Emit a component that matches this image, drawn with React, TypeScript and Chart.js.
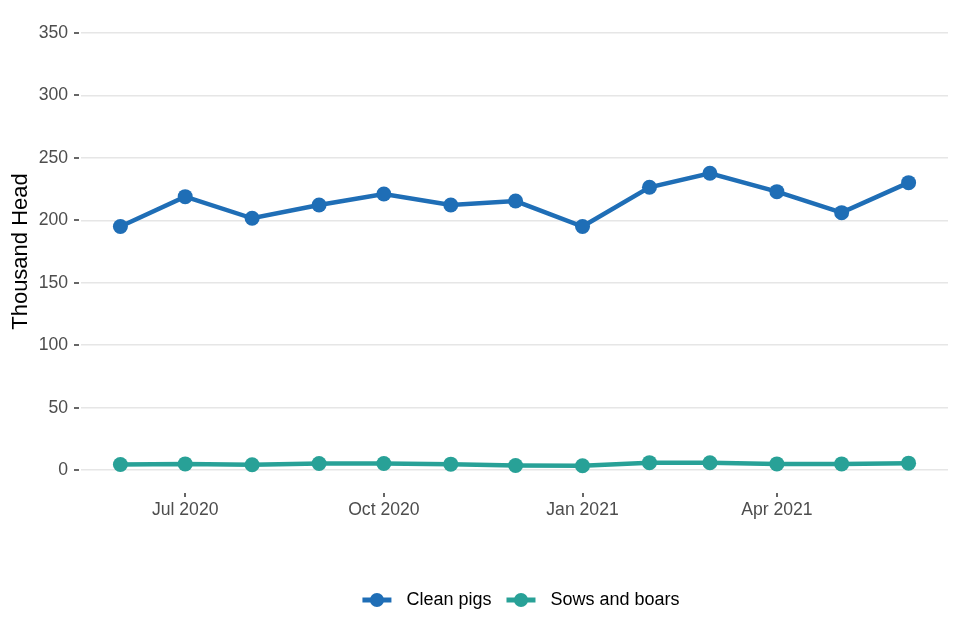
import React, { useEffect, useRef } from "react";
import { Chart, registerables } from "chart.js";

Chart.register(...registerables);

const months = [
  "2020-06", "2020-07", "2020-08", "2020-09", "2020-10", "2020-11", "2020-12",
  "2021-01", "2021-02", "2021-03", "2021-04", "2021-05", "2021-06",
];
const cleanPigs = [195.0, 218.9, 201.6, 212.2, 221.0, 212.2, 215.4, 195.0, 226.4, 237.6, 222.9, 206.1, 230.1];
const sowsAndBoars = [4.5, 5.0, 4.3, 5.3, 5.3, 4.8, 3.7, 3.5, 6.0, 5.9, 5.0, 5.0, 5.6];
const seriesNames = ["Clean pigs", "Sows and boars"];
const xTickMonths = ["2020-07", "2020-10", "2021-01", "2021-04"];
const yTicks = [0, 50, 100, 150, 200, 250, 300, 350];

const MONTH_ABBR = ["Jan", "Feb", "Mar", "Apr", "May", "Jun", "Jul", "Aug", "Sep", "Oct", "Nov", "Dec"];
const toDay = (m: string) => {
  const [y, mo] = m.split("-").map(Number);
  return Date.UTC(y, mo - 1, 1) / 86400000;
};
const dayLabel = (d: number) => {
  const dt = new Date(d * 86400000);
  return MONTH_ABBR[dt.getUTCMonth()] + " " + dt.getUTCFullYear();
};

const COLORS = ["#1f6eb6", "#28a197"];
const FONT = "'Liberation Sans', Arial, sans-serif";

const tickMarks = {
  id: "tickMarks",
  afterDraw(chart: any) {
    const { ctx, chartArea, scales } = chart;
    ctx.save();
    ctx.strokeStyle = "#333333";
    ctx.lineWidth = 1.5;
    for (const t of scales.y.ticks) {
      const y = Math.round(scales.y.getPixelForValue(t.value));
      ctx.beginPath();
      ctx.moveTo(chartArea.left - 7, y);
      ctx.lineTo(chartArea.left - 2, y);
      ctx.stroke();
    }
    for (const t of scales.x.ticks) {
      const x = Math.round(scales.x.getPixelForValue(t.value));
      ctx.beginPath();
      ctx.moveTo(x, chartArea.bottom + 1);
      ctx.lineTo(x, chartArea.bottom + 5);
      ctx.stroke();
    }
    ctx.restore();
  },
};

const customLegend = {
  id: "customLegend",
  afterDraw(chart: any) {
    const { ctx } = chart;
    ctx.save();
    ctx.font = `18px ${FONT}`;
    ctx.textBaseline = "middle";
    const keyW = 29;
    const gap = 15;
    const items = chart.data.datasets.map((d: any) => ({
      label: d.label,
      color: d.borderColor,
      w: ctx.measureText(d.label).width,
    }));
    let total = 0;
    items.forEach((it: any, i: number) => {
      total += keyW + gap + it.w + (i < items.length - 1 ? gap : 0);
    });
    const cx = 521;
    const cy = 600;
    let x = cx - total / 2;
    items.forEach((it: any) => {
      ctx.strokeStyle = it.color;
      ctx.lineWidth = 5;
      ctx.beginPath();
      ctx.moveTo(x, cy);
      ctx.lineTo(x + keyW, cy);
      ctx.stroke();
      ctx.fillStyle = it.color;
      ctx.beginPath();
      ctx.arc(x + keyW / 2, cy, 7, 0, Math.PI * 2);
      ctx.fill();
      x += keyW + gap;
      ctx.fillStyle = "#000000";
      ctx.textAlign = "left";
      ctx.fillText(it.label, x, cy);
      x += it.w + gap;
    });
    ctx.restore();
  },
};

export default function App() {
  const ref = useRef<HTMLCanvasElement | null>(null);
  useEffect(() => {
    document.body.style.margin = "0";
    if (!ref.current) return;
    const xs = months.map(toDay);
    const chart = new Chart(ref.current, {
      type: "line",
      data: {
        datasets: [cleanPigs, sowsAndBoars].map((vals, i) => ({
          label: seriesNames[i],
          data: vals.map((v, j) => ({ x: xs[j], y: v })),
          borderColor: COLORS[i],
          backgroundColor: COLORS[i],
          borderWidth: 4.5,
          pointRadius: 7.5,
          pointBorderWidth: 0,
          pointHoverRadius: 7.5,
          tension: 0,
        })),
      },
      options: {
        animation: false,
        responsive: false,
        events: [],
        layout: { padding: { top: 11, right: 12, bottom: 100, left: 0 } },
        plugins: { legend: { display: false }, tooltip: { enabled: false } },
        scales: {
          x: {
            type: "linear",
            min: xs[0] - 18.25,
            max: xs[xs.length - 1] + 18.25,
            afterBuildTicks: (s: any) => {
              s.ticks = xTickMonths.map((m) => ({ value: toDay(m) }));
            },
            afterFit: (s: any) => {
              s.height = 48;
              s.paddingLeft = 0;
              s.paddingRight = 0;
            },
            grid: { display: false, drawTicks: false },
            border: { display: false },
            ticks: {
              autoSkip: false,
              maxRotation: 0,
              padding: 8,
              color: "#4d4d4d",
              font: { family: FONT, size: 17.6 },
              callback: (v: any) => dayLabel(Number(v)),
            },
          },
          y: {
            min: -17.5,
            max: 367.5,
            afterBuildTicks: (s: any) => {
              s.ticks = yTicks.map((v) => ({ value: v }));
            },
            afterFit: (s: any) => {
              s.width = 81;
              s.paddingTop = 0;
              s.paddingBottom = 0;
            },
            grid: { color: "#e6e6e6", lineWidth: 1.5, drawTicks: false },
            border: { display: false },
            ticks: {
              padding: 13,
              color: "#4d4d4d",
              font: { family: FONT, size: 17.6 },
            },
            title: {
              display: true,
              text: "Thousand Head",
              color: "#000000",
              font: { family: FONT, size: 22 },
              padding: { top: 8, bottom: 0 },
            },
          },
        },
      },
      plugins: [tickMarks, customLegend],
    });
    return () => chart.destroy();
  }, []);
  return (
    <div style={{ width: 960, height: 640 }}>
      <canvas ref={ref} width={960} height={640} style={{ display: "block" }} />
    </div>
  );
}
